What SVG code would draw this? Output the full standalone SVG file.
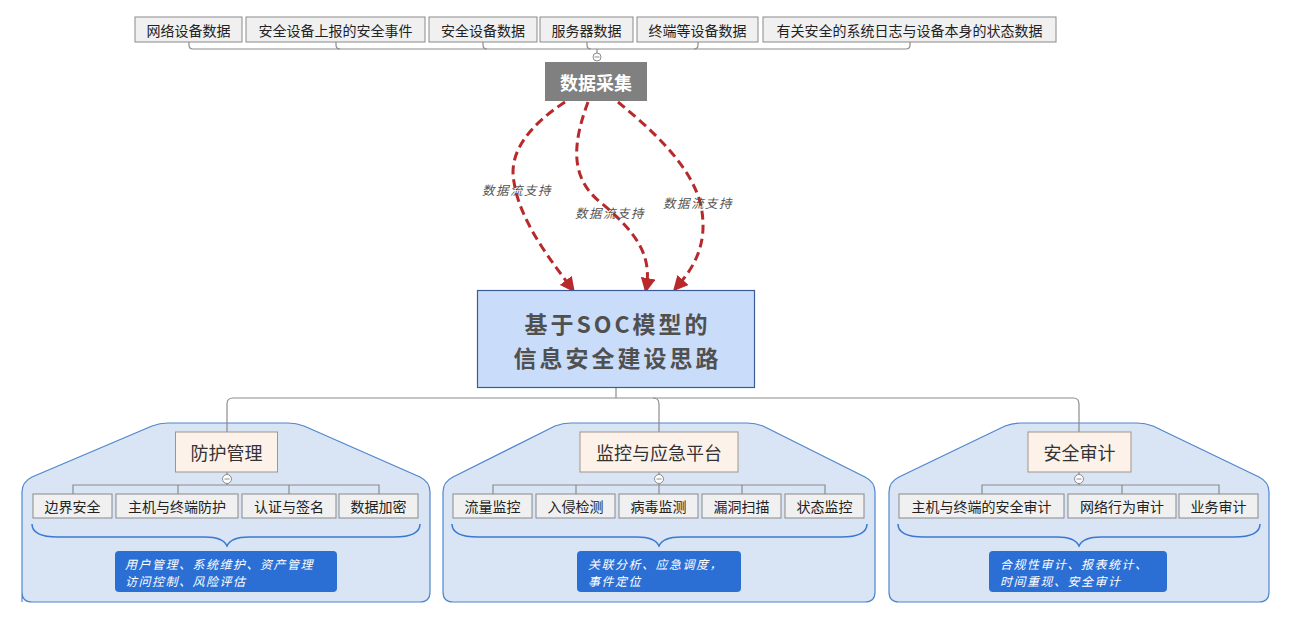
<svg xmlns="http://www.w3.org/2000/svg" width="1291" height="624" viewBox="0 0 1291 624">
<defs>
<style>
text{font-family:"Noto Sans CJK SC","Liberation Sans",sans-serif;}
.leaf rect{fill:#F0F0F0;stroke:#8A8A8A;stroke-width:1;}
.leaf text{font-size:14px;fill:#222;text-anchor:middle;dominant-baseline:central;}
.head rect{fill:#FDF2EA;stroke:#A0958C;stroke-width:1;}
.head text{font-size:18px;fill:#333;text-anchor:middle;dominant-baseline:central;}
.grp{fill:#D9E5F4;stroke:#4F86CC;stroke-width:1.2;}
.brace{fill:none;stroke:#3B78D2;stroke-width:1.5;}
.sum rect{fill:#2B6FD5;}
.sum text{font-size:12px;fill:#fff;font-style:italic;letter-spacing:1.5px;dominant-baseline:central;}
.ln{fill:none;stroke:#8C8C8C;stroke-width:1.2;}
.col circle{fill:#fff;stroke:#8C8C8C;stroke-width:1;}
.col line{stroke:#8C8C8C;stroke-width:1;}
.flow{fill:none;stroke:#B8292B;stroke-width:3;stroke-dasharray:9,5;marker-end:url(#arr);}
.flab{font-size:12.5px;fill:#555;font-style:italic;letter-spacing:1.5px;}
.ctr{font-size:23px;font-weight:bold;fill:#505050;text-anchor:middle;dominant-baseline:central;letter-spacing:3px;}
</style>
<marker id="arr" viewBox="0 0 10 10" refX="8" refY="5" markerWidth="5" markerHeight="5" orient="auto" markerUnits="strokeWidth">
<path d="M0,0 L10,5 L0,10 z" fill="#B8292B"/>
</marker>
</defs>

<!-- group backgrounds -->
<g id="bg">
<path class="grp" d="M22,602 L22,492 Q22,482 32,477 L152,426 Q160,423 168,423 L288,423 Q296,423 304,426 L420,477 Q430,482 430,492 L430,592 Q430,602 420,602 L32,602 Q22,602 22,592 Z"/>
<path class="grp" d="M443,592 L443,492 Q443,482 453,477 L555,426 Q563,423 571,423 L747,423 Q755,423 763,426 L865,477 Q875,482 875,492 L875,592 Q875,602 865,602 L453,602 Q443,602 443,592 Z"/>
<path class="grp" d="M889,592 L889,492 Q889,482 899,477 L1005,426 Q1013,423 1021,423 L1137,423 Q1145,423 1153,426 L1259,477 Q1269,482 1269,492 L1269,592 Q1269,602 1259,602 L899,602 Q889,602 889,592 Z"/>
</g>

<!-- connectors -->
<g id="connectors">
<path class="ln" d="M189,42 L189,45 Q189,49 193,49 L906,49 Q910,49 910,45 L910,42"/>
<path class="ln" d="M336,42 L336,45 Q336,49 340,49"/>
<path class="ln" d="M483,42 L483,45 Q483,49 487,49"/>
<path class="ln" d="M587,42 L587,45 Q587,49 591,49"/>
<path class="ln" d="M698,42 L698,45 Q698,49 694,49"/>
<path class="ln" d="M597,49 L597,53"/>

<path class="ln" d="M616,388 L616,398"/>
<path class="ln" d="M227,432 L227,404 Q227,398 233,398 L1073,398 Q1079,398 1079,404 L1079,432"/>
<path class="ln" d="M653,398 Q659,398 659,404 L659,432"/>

<path class="ln" d="M73,494 L73,485 L379,485 L379,494 M178,485 L178,494 M289,485 L289,494 M227,472 L227,485"/>
<path class="ln" d="M493,494 L493,485 L825,485 L825,494 M576,485 L576,494 M659,485 L659,494 M742,485 L742,494 M659,472 L659,485"/>
<path class="ln" d="M982,494 L982,485 L1219,485 L1219,494 M1122,485 L1122,494 M1079,472 L1079,485"/>

<path class="flow" d="M565,102 C530,125 508,152 514,182 C520,222 552,262 573,290"/>
<path class="flow" d="M588,102 C574,140 568,176 600,202 C640,235 652,258 646,290"/>
<path class="flow" d="M618,102 C652,130 692,166 701,206 C709,246 692,270 675,289"/>
<text class="flab" x="482" y="195">数据流支持</text>
<text class="flab" x="575" y="218">数据流支持</text>
<text class="flab" x="663" y="208">数据流支持</text>
</g>

<!-- collapse markers -->
<g class="col">
<circle cx="597" cy="57" r="4"/><line x1="594.5" y1="57" x2="599.5" y2="57"/>
<circle cx="227" cy="479" r="4.5"/><line x1="224.5" y1="479" x2="229.5" y2="479"/>
<circle cx="659" cy="479" r="4.5"/><line x1="656.5" y1="479" x2="661.5" y2="479"/>
<circle cx="1079" cy="479" r="4.5"/><line x1="1076.5" y1="479" x2="1081.5" y2="479"/>
</g>

<!-- top data sources -->
<g id="n-src1" class="leaf"><rect x="135" y="17" width="107" height="25"/><text x="188.5" y="29.5">网络设备数据</text></g>
<g id="n-src2" class="leaf"><rect x="246" y="17" width="179" height="25"/><text x="335.5" y="29.5">安全设备上报的安全事件</text></g>
<g id="n-src3" class="leaf"><rect x="429" y="17" width="108" height="25"/><text x="483" y="29.5">安全设备数据</text></g>
<g id="n-src4" class="leaf"><rect x="540" y="17" width="93" height="25"/><text x="586.5" y="29.5">服务器数据</text></g>
<g id="n-src5" class="leaf"><rect x="637" y="17" width="121" height="25"/><text x="697.5" y="29.5">终端等设备数据</text></g>
<g id="n-src6" class="leaf"><rect x="763" y="17" width="293" height="25"/><text x="909.5" y="29.5">有关安全的系统日志与设备本身的状态数据</text></g>

<g id="n-collect"><rect x="545" y="62" width="102" height="39" fill="#808080"/><text x="596" y="81.5" font-size="18" font-weight="bold" fill="#fff" text-anchor="middle" dominant-baseline="central">数据采集</text></g>

<g id="n-center"><rect x="477.5" y="290.5" width="277" height="97" fill="#C9DCFA" stroke="#3C5A96" stroke-width="1.2"/>
<text class="ctr" x="617.5" y="323">基于SOC模型的</text>
<text class="ctr" x="617.5" y="357">信息安全建设思路</text></g>

<!-- group 1 -->
<g id="n-protect" class="head"><rect x="175.5" y="432" width="102" height="40"/><text x="226.5" y="452">防护管理</text></g>
<g id="n-p1" class="leaf"><rect x="33" y="494" width="79" height="24"/><text x="72.5" y="506">边界安全</text></g>
<g id="n-p2" class="leaf"><rect x="116" y="494" width="122" height="24"/><text x="177" y="506">主机与终端防护</text></g>
<g id="n-p3" class="leaf"><rect x="242" y="494" width="94" height="24"/><text x="289" y="506">认证与签名</text></g>
<g id="n-p4" class="leaf"><rect x="339" y="494" width="79" height="24"/><text x="378.5" y="506">数据加密</text></g>
<path class="brace" d="M32,524 Q32,537 58,537 L205,537 Q223,537 227,546 Q231,537 249,537 L394,537 Q420,537 420,524"/>
<g id="n-psum" class="sum"><rect x="115" y="551" width="222" height="41" rx="4"/><text x="125" y="563">用户管理、系统维护、资产管理</text><text x="125" y="580.5">访问控制、风险评估</text></g>

<!-- group 2 -->
<g id="n-monitor" class="head"><rect x="580" y="432" width="158" height="40"/><text x="659" y="452">监控与应急平台</text></g>
<g id="n-m1" class="leaf"><rect x="453" y="494" width="79" height="24"/><text x="492.5" y="506">流量监控</text></g>
<g id="n-m2" class="leaf"><rect x="536" y="494" width="79" height="24"/><text x="575.5" y="506">入侵检测</text></g>
<g id="n-m3" class="leaf"><rect x="619" y="494" width="79" height="24"/><text x="658.5" y="506">病毒监测</text></g>
<g id="n-m4" class="leaf"><rect x="702" y="494" width="79" height="24"/><text x="741.5" y="506">漏洞扫描</text></g>
<g id="n-m5" class="leaf"><rect x="785" y="494" width="79" height="24"/><text x="824.5" y="506">状态监控</text></g>
<path class="brace" d="M452,524 Q452,537 478,537 L637,537 Q655,537 659,546 Q663,537 681,537 L841,537 Q867,537 867,524"/>
<g id="n-msum" class="sum"><rect x="577" y="551" width="164" height="41" rx="4"/><text x="588" y="563">关联分析、应急调度，</text><text x="588" y="580.5">事件定位</text></g>

<!-- group 3 -->
<g id="n-audit" class="head"><rect x="1028" y="432" width="103" height="40"/><text x="1079.5" y="452">安全审计</text></g>
<g id="n-a1" class="leaf"><rect x="899" y="494" width="165" height="24"/><text x="981.5" y="506">主机与终端的安全审计</text></g>
<g id="n-a2" class="leaf"><rect x="1068" y="494" width="108" height="24"/><text x="1122" y="506">网络行为审计</text></g>
<g id="n-a3" class="leaf"><rect x="1179" y="494" width="79" height="24"/><text x="1218.5" y="506">业务审计</text></g>
<path class="brace" d="M898,524 Q898,537 924,537 L1057,537 Q1075,537 1079,546 Q1083,537 1101,537 L1234,537 Q1260,537 1260,524"/>
<g id="n-asum" class="sum"><rect x="989" y="551" width="178" height="41" rx="4"/><text x="1000" y="563">合规性审计、报表统计、</text><text x="1000" y="580.5">时间重现、安全审计</text></g>
</svg>
